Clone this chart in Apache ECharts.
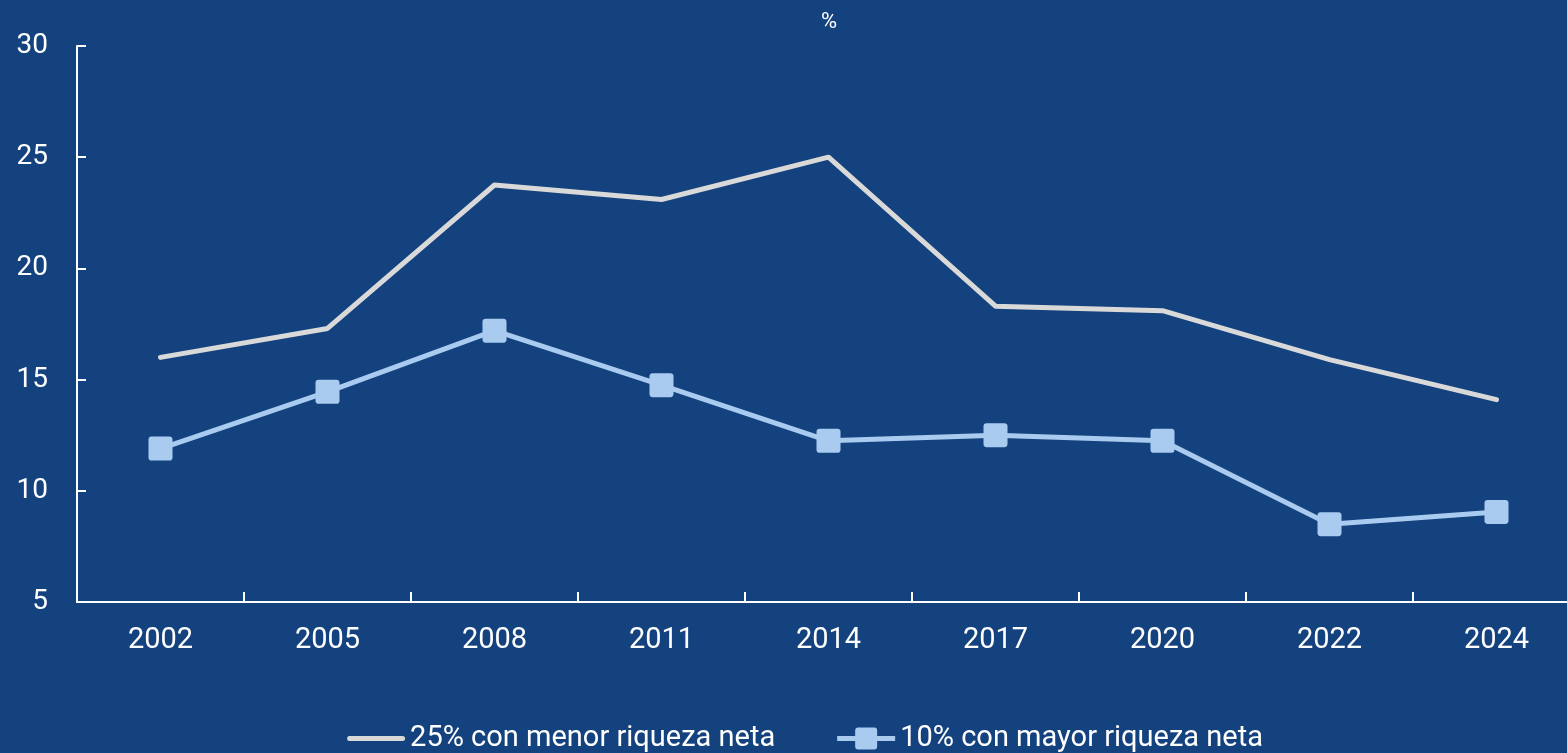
<!DOCTYPE html>
<html>
<head>
<meta charset="utf-8">
<script src="https://cdn.jsdelivr.net/npm/echarts@6/dist/echarts.min.js"></script>
<style>
  html, body { margin: 0; padding: 0; background: #14427E; overflow: hidden; }
  #chart { width: 1610px; height: 753px; }
</style>
</head>
<body>
<div id="chart"></div>
<script>
// Survey years
const years = ['2002', '2005', '2008', '2011', '2014', '2017', '2020', '2022', '2024'];
// Share (%) for each wealth group
const lowestQuarter = [16.0, 17.3, 23.75, 23.1, 25.0, 18.3, 18.1, 15.9, 14.1];
const topTenth = [11.9, 14.45, 17.2, 14.75, 12.25, 12.5, 12.25, 8.5, 9.05];
const seriesNames = ['25% con menor riqueza neta', '10% con mayor riqueza neta'];
const unitLabel = '%';

const FONT = 'Roboto, "Noto Sans", sans-serif';
const GREY = '#D9D9D9';
const LIGHT_BLUE = '#A9CBF0';
// rounded square marker
const SQUARE = 'path://M3,0 H20 Q23,0 23,3 V20 Q23,23 20,23 H3 Q0,23 0,20 V3 Q0,0 3,0 Z';
// legend icons drawn in a 58x24 box (corner specks keep the full box)
const BOX = 'M0,0 h0.01 v0.01 z M57.99,23.99 h0.01 v0.01 z ';
const LINE_ICON = 'path://' + BOX + 'M2.5,9.5 H55.5 A2.5,2.5 0 0 1 55.5,14.5 H2.5 A2.5,2.5 0 0 1 2.5,9.5 Z';
const LINE_SQUARE_ICON = 'path://' + BOX + 'M0,9.5 H58 V14.5 H0 Z ' +
  'M21,1 H37 Q40,1 40,4 V20 Q40,23 37,23 H21 Q18,23 18,20 V4 Q18,1 21,1 Z';

const chart = echarts.init(document.getElementById('chart'));

chart.setOption({
  backgroundColor: '#14427E',
  animation: false,
  textStyle: { fontFamily: FONT },
  title: {
    text: unitLabel,
    left: 824, top: 6,
    textAlign: 'center',
    textStyle: { color: '#ffffff', fontSize: 22, fontWeight: 'normal', fontFamily: FONT }
  },
  grid: { left: 77, top: 46, width: 1503, height: 556, containLabel: false },
  legend: {
    top: 719,
    left: 'center',
    itemGap: 62,
    itemWidth: 58,
    itemHeight: 24,
    textStyle: { color: '#ffffff', fontSize: 29, fontFamily: FONT },
    data: [
      { name: seriesNames[0], icon: LINE_ICON, itemStyle: { color: GREY } },
      { name: seriesNames[1], icon: LINE_SQUARE_ICON, itemStyle: { color: LIGHT_BLUE } }
    ]
  },
  xAxis: {
    type: 'category',
    data: years,
    boundaryGap: true,
    axisLine: { lineStyle: { color: '#ffffff', width: 2 } },
    axisTick: { show: true, inside: true, length: 10, lineStyle: { color: '#ffffff', width: 2 } },
    axisLabel: { color: '#ffffff', fontSize: 29, margin: 24, fontFamily: FONT },
    splitLine: { show: false }
  },
  yAxis: {
    type: 'value',
    min: 5, max: 30, interval: 5,
    axisLine: { show: true, lineStyle: { color: '#ffffff', width: 2 } },
    axisTick: { show: true, inside: true, length: 9, lineStyle: { color: '#ffffff', width: 2 } },
    axisLabel: { color: '#ffffff', fontSize: 28, margin: 29, fontFamily: FONT },
    splitLine: { show: false }
  },
  series: [
    {
      name: seriesNames[0],
      type: 'line',
      data: lowestQuarter,
      symbol: 'none',
      lineStyle: { color: GREY, width: 5, cap: 'round', join: 'round' },
      itemStyle: { color: GREY }
    },
    {
      name: seriesNames[1],
      type: 'line',
      data: topTenth,
      symbol: SQUARE,
      symbolSize: 24,
      lineStyle: { color: LIGHT_BLUE, width: 5 },
      itemStyle: { color: LIGHT_BLUE }
    }
  ]
});
</script>
</body>
</html>
